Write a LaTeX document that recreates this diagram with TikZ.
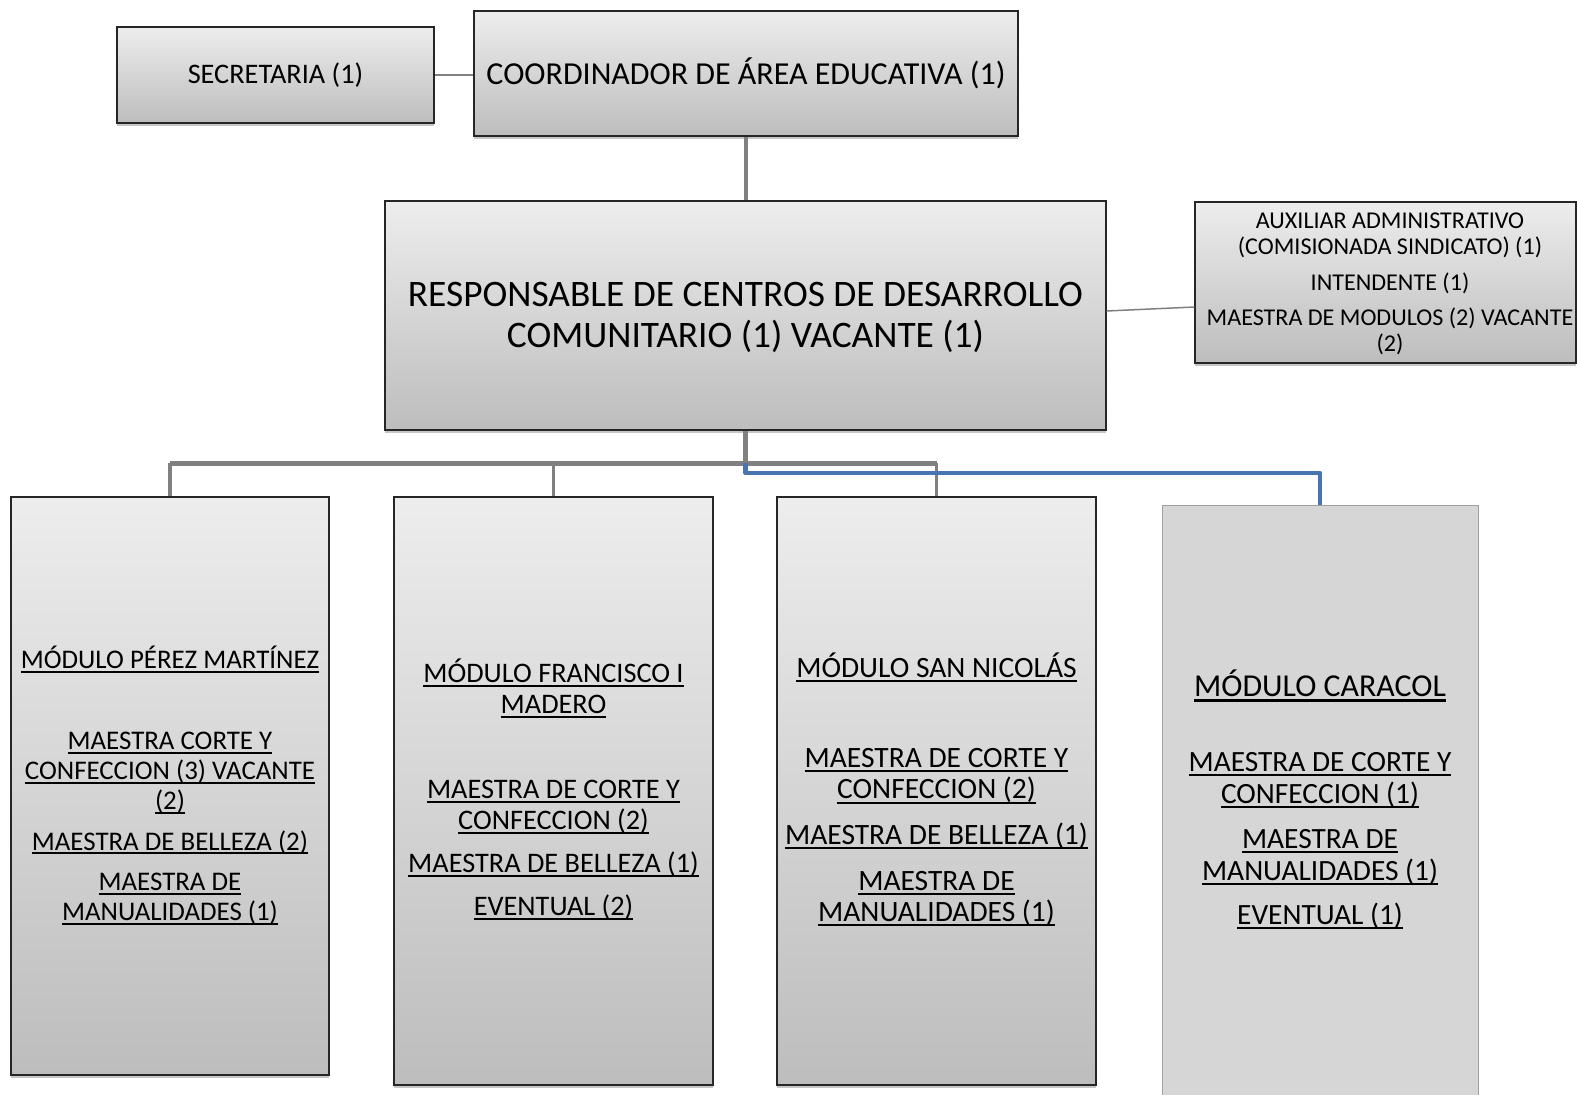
\documentclass[tikz,border=0pt]{standalone}
\usepackage{fontspec}
\setmainfont{Carlito}
\usetikzlibrary{shadows}
\definecolor{lineg}{RGB}{128,128,128}
\definecolor{lineb}{RGB}{72,116,176}
\definecolor{boxtop}{RGB}{237,237,237}
\definecolor{boxbot}{RGB}{189,189,189}
\definecolor{cfill}{RGB}{214,214,214}
\definecolor{cborder}{RGB}{160,160,160}
\newcommand\uln[1]{\setbox0\hbox{#1}\rlap{\rule[-0.16em]{\wd0}{0.07em}}\box0}
\newcommand\stk[1]{\vtop{\halign{\hfil##\hfil\cr#1\crcr}}}
\newcommand\gap[1]{\noalign{\vskip#1pt}}
\begin{document}
\begin{tikzpicture}[x=1pt,y=-1pt,
  orgbox/.style={draw=black!85, line width=1.3pt, top color=boxtop, bottom color=boxbot,
    drop shadow={shadow xshift=0pt, shadow yshift=-3pt, opacity=0.45}, inner sep=0pt, align=center},
  flatbox/.style={draw=cborder, line width=1pt, fill=cfill, inner sep=0pt},
  txt/.style={inner sep=0pt, anchor=base, text=black},
  thinconn/.style={draw=lineg, line width=1.8pt},
  trunk/.style={draw=lineg, line width=4.5pt},
  busline/.style={draw=lineg, line width=5pt, line cap=square},
  dropline/.style={draw=lineg, line width=3.5pt},
  blueline/.style={draw=lineb, line width=4.5pt, line join=round}
]
\useasboundingbox (0,0) rectangle (1577,1095);

% boxes
\node[orgbox, minimum width=317pt, minimum height=96pt, font=\fontsize{28.3pt}{32pt}\selectfont]
  (sec) at (275.5,75) {SECRETARIA (1)};
\node[orgbox, minimum width=544pt, minimum height=125pt, font=\fontsize{32pt}{36pt}\selectfont]
  (coord) at (746,73.5) {COORDINADOR DE ÁREA EDUCATIVA (1)};
\node[orgbox, minimum width=721pt, minimum height=229pt] (resp) at (745.5,315.5) {};
\node[orgbox, minimum width=381pt, minimum height=161pt] (aux) at (1385.5,282.5) {};
\node[orgbox, minimum width=318pt, minimum height=578pt] (m1) at (170,786) {};
\node[orgbox, minimum width=319pt, minimum height=588pt] (m2) at (553.5,791) {};
\node[orgbox, minimum width=319pt, minimum height=588pt] (m3) at (936.5,791) {};
\node[flatbox, minimum width=316pt, minimum height=595pt] (m4) at (1320,802.5) {};

% texts
\node[txt, font=\fontsize{37.4pt}{40.2pt}\selectfont] (tresp) at (745.5,306.8)
  {\stk{RESPONSABLE DE CENTROS DE DESARROLLO\cr COMUNITARIO (1) VACANTE (1)}};
\node[txt, font=\fontsize{24.1pt}{26.1pt}\selectfont] (taux) at (1390,228)
  {\stk{AUXILIAR ADMINISTRATIVO\cr (COMISIONADA SINDICATO) (1)\cr\gap{10}
        INTENDENTE (1)\cr\gap{9}
        MAESTRA DE MODULOS (2) VACANTE\cr (2)}};
\node[txt, font=\fontsize{26.9pt}{29.8pt}\selectfont] (t1) at (170,668.8)
  {\stk{\uln{MÓDULO PÉREZ MARTÍNEZ}\cr\gap{51}
        \uln{MAESTRA CORTE Y}\cr
        \uln{CONFECCION (3) VACANTE}\cr
        \uln{(2)}\cr\gap{11}
        \uln{MAESTRA DE BELLEZA (2)}\cr\gap{11}
        \uln{MAESTRA DE}\cr
        \uln{MANUALIDADES (1)}}};
\node[txt, font=\fontsize{28.3pt}{31pt}\selectfont] (t2) at (553.5,682.2)
  {\stk{\uln{MÓDULO FRANCISCO I}\cr
        \uln{MADERO}\cr\gap{54}
        \uln{MAESTRA DE CORTE Y}\cr
        \uln{CONFECCION (2)}\cr\gap{12}
        \uln{MAESTRA DE BELLEZA (1)}\cr\gap{12}
        \uln{EVENTUAL (2)}}};
\node[txt, font=\fontsize{29.5pt}{31.3pt}\selectfont] (t3) at (936.5,677.6)
  {\stk{\uln{MÓDULO SAN NICOLÁS}\cr\gap{58.7}
        \uln{MAESTRA DE CORTE Y}\cr
        \uln{CONFECCION (2)}\cr\gap{14}
        \uln{MAESTRA DE BELLEZA (1)}\cr\gap{14.7}
        \uln{MAESTRA DE}\cr
        \uln{MANUALIDADES (1)}}};
\node[txt, font=\fontsize{29.4pt}{32pt}\selectfont] (t4) at (1320,696.4)
  {\stk{{\fontsize{31.9pt}{32pt}\selectfont\uln{MÓDULO CARACOL}}\cr\gap{43.2}
        \uln{MAESTRA DE CORTE Y}\cr
        \uln{CONFECCION (1)}\cr\gap{13}
        \uln{MAESTRA DE}\cr
        \uln{MANUALIDADES (1)}\cr\gap{12}
        \uln{EVENTUAL (1)}}};

% connectors
\coordinate (bus) at (745.5,463);
\coordinate (bl) at (1320,473);
\draw[thinconn] (sec.east) -- (sec.east -| coord.west);
\draw[trunk] (coord.south) -- (coord.south |- resp.north);
\draw[thinconn, line width=1.5pt] ([yshift=4.5pt]resp.east) -- ([yshift=-24.5pt]aux.west);
\draw[trunk] (resp.south) -- (resp.south |- bus);
\draw[busline] (m1.north |- bus) -- (m3.north |- bus);
\draw[dropline] (m1.north |- bus) -- (m1.north);
\draw[dropline] (m2.north |- bus) -- (m2.north);
\draw[dropline] (m3.north |- bus) -- (m3.north);
\draw[blueline] (resp.south |- bus) |- (bl) -- (m4.north);
\end{tikzpicture}
\end{document}
